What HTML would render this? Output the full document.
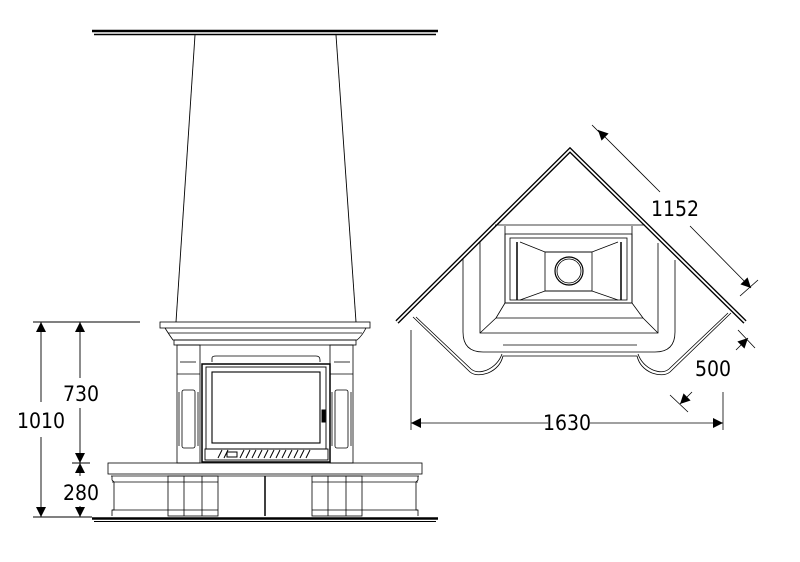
<!DOCTYPE html>
<html><head><meta charset="utf-8"><style>
html,body{margin:0;padding:0;background:#fff;width:800px;height:562px;overflow:hidden}
svg{display:block}
text{font-family:"DejaVu Sans Condensed","Liberation Sans Narrow","Liberation Sans",sans-serif;font-size:21px;fill:#000}
</style></head><body>
<svg width="800" height="562" viewBox="0 0 800 562" xmlns="http://www.w3.org/2000/svg">
<defs>
<marker id="b" viewBox="0 0 10 10" refX="10" refY="5" markerWidth="14" markerHeight="10" orient="auto-start-reverse" markerUnits="userSpaceOnUse"><path d="M0,0 L10,5 L0,10z" fill="#000"/></marker>
</defs>
<g stroke="#000" fill="none">
<line x1="92" y1="31" x2="438" y2="31" stroke-width="2.5"/>
<line x1="94" y1="34.5" x2="436" y2="34.5" stroke-width="1.5"/>
<line x1="195" y1="35" x2="176" y2="322" stroke-width="0.9"/>
<line x1="336" y1="35" x2="356" y2="322" stroke-width="0.9"/>
<g stroke-width="0.8">
<rect x="160" y="322" width="210" height="6"/>
<path d="M165,328 Q170,336 173,340 L357,340 Q362,336 366,328"/>
<line x1="168" y1="333" x2="362" y2="333"/>
<rect x="174" y="340" width="182" height="5"/>
<rect x="177" y="345" width="23" height="118"/>
<rect x="330" y="345" width="23" height="118"/>
<line x1="177" y1="374" x2="200" y2="374"/><line x1="330" y1="374" x2="353" y2="374"/>
<line x1="180" y1="362" x2="196" y2="362"/><line x1="334" y1="362" x2="350" y2="362"/>
<rect x="182" y="390" width="13" height="58" rx="2"/>
<rect x="335" y="390" width="13" height="58" rx="2"/>
<line x1="179" y1="392" x2="179" y2="446"/><line x1="198" y1="392" x2="198" y2="446"/>
<line x1="332" y1="392" x2="332" y2="446"/><line x1="351" y1="392" x2="351" y2="446"/>
<path d="M212,362 L212,358 Q212,356 216,356 L316,356 Q320,356 320,360 L320,362"/>
</g>
<rect x="202" y="364" width="128" height="98" stroke-width="1.5"/>
<rect x="206" y="367" width="120" height="82" stroke-width="0.9"/>
<rect x="212" y="372" width="108" height="71" stroke-width="1.1"/>
<rect x="205" y="449" width="123" height="11" stroke-width="0.9"/>
<path d="M218,458 l4,-8 M224,458 l4,-8 M240,458 l4,-8 M246,458 l4,-8 M252,458 l4,-8 M258,458 l4,-8 M264,458 l4,-8 M270,458 l4,-8 M276,458 l4,-8 M282,458 l4,-8 M288,458 l4,-8 M294,458 l4,-8 M300,458 l4,-8 M306,458 l4,-8" stroke-width="1"/>
<rect x="227" y="452" width="10" height="5" stroke-width="1"/>
<rect x="322" y="410" width="3" height="12" fill="#000"/>
<g stroke-width="0.8">
<rect x="108" y="463" width="314" height="11"/>
<line x1="111" y1="476" x2="419" y2="476"/>
<path d="M112,476 L112,480 L114,482 L114,510 L112,510 L112,516"/>
<path d="M418,476 L418,480 L416,482 L416,510 L418,510 L418,516"/>
<line x1="112" y1="482" x2="218" y2="482"/><line x1="112" y1="510" x2="218" y2="510"/>
<line x1="312" y1="482" x2="418" y2="482"/><line x1="312" y1="510" x2="418" y2="510"/>
<rect x="168" y="476" width="50" height="40"/>
<rect x="312" y="476" width="50" height="40"/>
<line x1="184" y1="476" x2="184" y2="516"/><line x1="202" y1="476" x2="202" y2="516"/>
<line x1="328" y1="476" x2="328" y2="516"/><line x1="346" y1="476" x2="346" y2="516"/>
<line x1="265" y1="476" x2="265" y2="516" stroke-width="1.5"/>
</g>
<line x1="92" y1="518.5" x2="438" y2="518.5" stroke-width="2.5"/>
<line x1="94" y1="521.5" x2="436" y2="521.5" stroke-width="1"/>
<g stroke-width="0.9">
<line x1="33" y1="322" x2="140" y2="322"/>
<line x1="33" y1="517" x2="92" y2="517"/>
<line x1="72" y1="463" x2="90" y2="463"/>
<line x1="41" y1="322" x2="41" y2="402" marker-start="url(#b)"/>
<line x1="41" y1="437" x2="41" y2="517" marker-end="url(#b)"/>
<line x1="80" y1="322" x2="80" y2="378" marker-start="url(#b)"/>
<line x1="80" y1="408" x2="80" y2="463" marker-end="url(#b)"/>
<line x1="80" y1="463" x2="80" y2="476" marker-start="url(#b)"/>
<line x1="80" y1="517" x2="80" y2="506" marker-start="url(#b)"/>
</g>
<!-- top view -->
<path d="M397,322 L570,150 L745,322" stroke-width="4.5"/>
<path d="M397,322 L570,150 L745,322" stroke="#fff" stroke-width="1.8"/>
<g stroke-width="0.8">
<path d="M413,317 L470,372 Q476,377 488,373 Q500,368 503,356 L637,356 Q640,368 652,373 Q664,377 670,372 L731,313"/>
<path d="M416,317 L471,369 Q477,374 487,370 Q498,365 502,354"/>
<path d="M728,313 L669,369 Q663,374 653,370 Q642,365 638,354"/>
<path d="M463,258 L463,332 Q463,352 483,352 L655,352 Q675,352 675,332 L675,260"/>
<path d="M480,241 L480,333 L658,333 L658,243"/>
<path d="M480,333 L496,318 L643,318 L658,333"/>
<path d="M496,318 L505,303 M643,318 L632,303"/>
<path d="M505,226 L505,303 L632,303 L632,226"/>
<line x1="495" y1="225" x2="645" y2="225"/>
<rect x="505" y="234" width="127" height="69"/>
<rect x="510" y="238" width="117" height="62"/>
<path d="M520,242 L545,252 L592,252 L618,242 M520,300 L545,291 L592,291 L618,300"/>
<rect x="545" y="252" width="47" height="39"/>
<circle cx="569" cy="271" r="14" stroke-width="1.2"/>
<circle cx="569" cy="271" r="12"/>
<line x1="517" y1="242" x2="517" y2="300" stroke-width="1.5"/>
<line x1="621" y1="242" x2="621" y2="300" stroke-width="1.5"/>
<line x1="503" y1="345" x2="637" y2="345"/>
<line x1="411" y1="330" x2="411" y2="430"/>
<line x1="723" y1="392" x2="723" y2="430"/>
<line x1="411" y1="423" x2="548" y2="423" marker-start="url(#b)"/>
<line x1="590" y1="423" x2="723" y2="423" marker-end="url(#b)"/>
<line x1="592" y1="125" x2="603" y2="136"/>
<line x1="598" y1="130" x2="660" y2="192" marker-start="url(#b)"/>
<line x1="690" y1="226" x2="751" y2="288" marker-end="url(#b)"/>
<line x1="740" y1="296" x2="758" y2="280"/>
<line x1="748" y1="338" x2="736" y2="350" marker-start="url(#b)"/>
<line x1="738" y1="330" x2="755" y2="348"/>
<line x1="680" y1="404" x2="692" y2="392" marker-start="url(#b)"/>
<line x1="670" y1="395" x2="688" y2="412"/>
</g>
</g>
<text x="41" y="428" text-anchor="middle">1010</text>
<text x="81" y="401" text-anchor="middle">730</text>
<text x="81" y="500" text-anchor="middle">280</text>
<text x="567" y="430" text-anchor="middle">1630</text>
<text x="675" y="216" text-anchor="middle">1152</text>
<text x="713" y="376" text-anchor="middle">500</text>
</svg>
</body></html>
